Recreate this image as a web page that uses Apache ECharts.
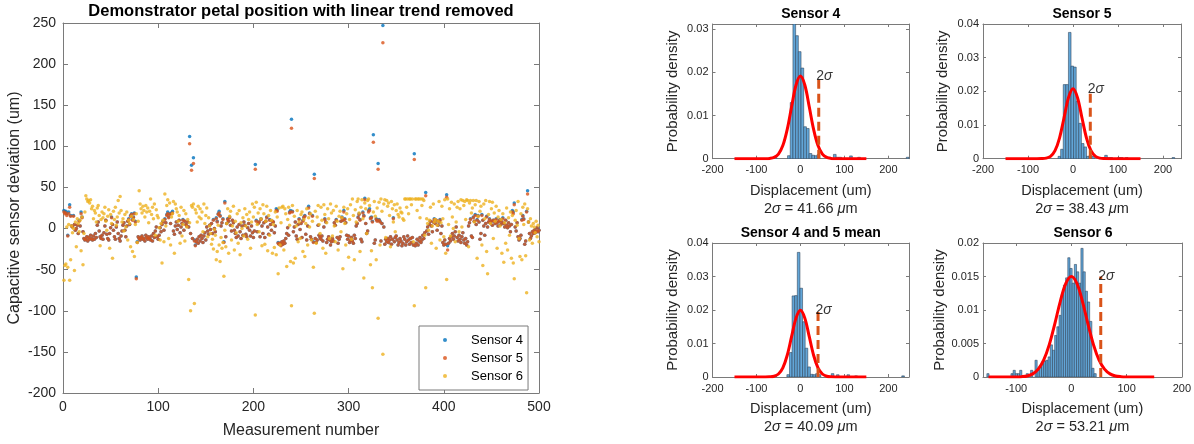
<!DOCTYPE html>
<html><head><meta charset="utf-8">
<script src="https://cdn.jsdelivr.net/npm/echarts@6/dist/echarts.min.js"></script>
<style>html,body{margin:0;padding:0;background:#fff}#c{width:1194px;height:444px}</style>
</head><body><div id="c"></div>
<script>
// ---------------- data ----------------
const sensor4 = [
22,20,21,18,-8,20,29,16,3,2, 16,5,-2,0,4,-6,10,3,20,14, -4,-12,-14,-13,-10,-15,-11,-13,-8,-12, -14,-9,-13,-6,-11,4,8,-3,-10,-12, -8,-13,-5,3,10,-7,-12,-14,-6,1,
14,5,-2,-10,-13,2,8,-6,-12,-15, -9,-3,4,7,-2,-10,3,9,12,5, 16,18,11,14,19,9,-59,-16,-10,-12, -14,-11,-9,-13,-12,-15,-8,-11,-13,-10, -12,-14,-9,-15,-6,-11,-3,2,-10,-13,
-8,1,-4,5,9,-2,12,7,17,20, 14,18,6,19,21,-3,-7,3,8,-1, 4,10,-5,2,6,11,-2,9,5,3, 8,2,112,-6,77,-12,86,-14,-20,-16, -13,-18,-10,-15,-8,-12,-17,-9,-5,-14,
2,-3,-7,4,-1,6,-6,11,0,-4, 13,9,18,21,16,3,7,12,-16,33, -10,6,12,9,14,4,-3,10,7,-2, -6,-11,2,-9,5,-4,-12,3,-8,8, 4,-7,-10,1,6,-2,-9,3,-5,-11,
-3,78,10,-4,6,8,-10,12,3,-6, 7,-11,9,14,2,-7,11,5,-2,9, 8,-5,3,24,23,-17,-19,-18,-20,-16, -19,-15,-18,-12,-6,1,-8,20,22,133, 21,-4,2,8,-9,-13,5,12,-1,6,
-11,10,14,16,-7,-14,3,27,19,-10, -13,16,-16,66,-12,-17,-14,4,-8,-11, -13,-9,-15,2,12,8,-17,-13,-10,-14, -20,-16,-12,-15,7,4,11,-11,-18,-13, -10,9,14,10,22,12,7,-8,-13,-9,
-17,-14,-11,-15,-18,-8,-12,3,6,14, 18,11,-13,-16,20,16,37,6,-6,-3, 22,24,13,14,9,114,-18,-14,12,10, 79,11,9,-15,6,247,2,-19,-13,-16, -12,-17,-14,-10,-19,-13,13,-16,-11,-9,
-14,-20,-17,-12,-15,-21,-18,-10,-13,-20, -16,-9,-14,-19,-12,-17,-11,-20,91,-21, -18,-13,-20,-15,-11,-17,-14,-8,-12,-5, 44,-3,2,-7,5,9,3,-4,8,12, 6,10,-2,4,8,11,-6,3,-17,-20,
-14,-19,41,-21,-18,-12,-15,-10,-6,-13, -9,-4,2,-11,-15,-8,-13,-17,-10,-5, -14,-18,-12,-20,-16,3,7,12,-9,-11, 14,9,17,5,11,16,8,-13,-6,17, 10,3,-8,6,15,2,8,12,7,9,
4,10,9,6,12,7,3,9,11,5, 8,13,6,2,10,4,1,7,3,-4, 5,22,20,31,2,-3,7,-10,-14,-12, -8,11,16,12,-19,-15,21,46,8,-6, -12,-9,-4,-6,-2,-5,-3,1,-4,-2
];
const sensor5 = [
20,18,19,16,-9,18,26,15,3,2, 15,5,-2,0,4,-6,9,3,18,13, -4,-12,-14,-13,-10,-15,-11,-13,-8,-12, -14,-9,-13,-6,-11,4,8,-3,-10,-12, -8,-13,-5,3,10,-7,-12,-14,-6,1,
13,5,-2,-10,-13,2,8,-6,-12,-15, -9,-3,4,7,-2,-10,3,9,11,5, 15,17,10,13,18,8,-61,-17,-10,-12, -14,-11,-9,-13,-12,-15,-8,-11,-13,-10, -12,-14,-9,-15,-6,-11,-3,2,-10,-13,
-8,1,-4,5,8,-2,11,7,16,18, 13,17,6,18,19,-3,-7,3,8,-1, 4,10,-5,2,6,10,-2,9,5,3, 8,2,103,-6,71,-12,79,-15,-21,-16, -13,-18,-10,-15,-8,-12,-17,-9,-5,-14,
2,-3,-7,4,-1,6,-6,10,0,-4, 12,8,17,19,15,3,7,11,-17,31, -10,6,11,9,13,4,-3,10,7,-2, -6,-11,2,-9,5,-4,-12,3,-8,8, 4,-7,-10,1,6,-2,-9,3,-5,-11,
-3,72,9,-4,6,8,-10,11,3,-6, 7,-11,9,13,2,-7,10,5,-2,9, 8,-5,3,22,21,-18,-19,-18,-21,-16, -19,-15,-18,-12,-6,1,-8,19,20,122, 20,-4,2,8,-9,-13,5,11,-1,6,
-11,9,13,15,-7,-14,3,25,18,-10, -13,15,-17,61,-12,-17,-14,4,-8,-11, -13,-9,-15,2,11,8,-17,-13,-10,-14, -20,-16,-12,-15,7,4,10,-11,-18,-13, -10,9,13,10,20,11,7,-8,-13,-9,
-17,-14,-11,-15,-18,-8,-12,3,6,13, 17,10,-13,-16,19,15,35,6,-6,-3, 20,22,12,13,8,105,-18,-14,11,9, 72,10,8,-15,6,226,2,-19,-13,-16, -12,-17,-14,-10,-19,-13,12,-16,-11,-9,
-14,-20,-17,-12,-15,-21,-18,-10,-13,-20, -16,-9,-14,-19,-12,-17,-11,-20,84,-21, -18,-13,-20,-15,-11,-17,-14,-8,-12,-5, 40,-3,2,-7,5,9,3,-4,8,11, 6,10,-2,4,8,10,-6,3,-17,-20,
-14,-19,38,-26,-18,-12,-15,-10,-6,-13, -9,-4,2,-11,-15,-8,-13,-17,-10,-5, -14,-18,-12,-20,-16,3,7,11,-9,-11, 13,9,16,5,10,15,8,-13,-6,16, 10,3,-8,6,14,2,8,11,7,9,
4,10,9,6,11,7,3,9,10,5, 8,12,6,2,10,4,1,7,3,-4, 5,20,18,29,2,-3,7,-10,-14,-12, -8,10,15,11,-19,-15,20,42,8,-6, -12,-9,-4,-6,-2,-5,-3,1,-4,-2
];
const sensor6 = [
-63,-45,-43,2,-47,5,-63,-38,3,-5, 0,-51,8,-22,12,6,-4,10,-27,14, -44,-6,20,40,36,33,34,31,35,24, 27,12,22,19,8,25,28,16,-21,11, 20,13,18,26,9,-2,15,23,-24,17,
6,-36,21,11,26,4,14,34,19,39, 22,8,12,-3,17,2,20,-14,10,6, -22,15,-28,11,-34,5,18,-17,9,46, 30,24,19,27,22,14,28,20,25,7, 21,36,17,26,12,30,-8,23,16,13,
1,-14,6,-42,10,-16,42,3,28,35, -12,31,-20,14,18,33,-30,30,24,20, 9,16,-18,26,-9,5,22,-15,18,2, 11,-62,7,-100,28,26,30,-91,23,19, 8,27,14,24,12,20,-4,30,6,16,
25,-10,13,3,-6,-19,-13,-25,-1,-8, -38,-28,4,-20,-40,-11,-24,-17,-58,-2, -22,6,24,-30,15,21,-14,3,27,-26, 9,-5,18,-18,22,-32,7,0,13,-9, 24,3,17,-13,11,20,-24,8,30,14,
26,-105,32,5,19,-4,24,12,-21,29, 18,-19,9,27,-27,16,-8,22,10,-30, 5,-23,20,-32,14,-55,25,-20,7,26, 27,-26,24,18,-46,11,26,4,-40,-94, 28,-42,15,-36,3,22,-16,8,-12,17,
20,-28,11,-34,6,24,-20,13,2,18, -14,9,-47,-103,21,-18,14,28,5,-6, 26,10,-24,29,17,-30,7,24,12,-12, 30,19,-9,22,3,-16,27,9,-26,15, 21,-4,13,-49,26,6,-20,18,24,-35,
11,29,-13,36,16,-38,23,8,33,36, 19,-28,26,35,12,-60,31,24,-6,34, 36,28,-44,-27,-72,20,33,15,-38,25, -109,32,-20,36,21,-153,30,35,-11,34, 27,31,16,-22,33,24,8,29,-4,22,
30,17,14,25,20,19,12,10,36,36, 26,36,18,36,36,29,36,-16,-94,36, 36,22,36,36,13,36,28,36,34,-8, -72,12,6,-2,10,26,-18,3,30,8, 11,-24,4,9,33,-14,7,27,12,-10,
35,-30,-62,36,5,24,-9,32,14,0, 30,-16,8,26,33,-4,24,35,2,34, 28,33,11,35,34,-22,31,34,19,25, 34,8,29,34,-36,15,33,21,27,-20, -45,30,12,34,-28,-55,17,33,6,24,
32,-12,19,9,27,-24,14,22,3,11, -30,18,-41,7,-18,25,-26,13,-8,20, -36,16,-42,-61,10,22,4,33,-12,-34, 18,-38,26,5,30,-33,-78,24,8,-14, 12,3,-18,6,2,-5,9,-10,4,-16
];
const seriesNames = ['Sensor 4', 'Sensor 5', 'Sensor 6'];

// histogram densities (50 bins each)
const hist4Start = -60, hist4Width = 6.14;
const hist4Density = [0.00033,0,0,0,0,0.0007,0.013,0.0312,0.0285,0.0248, 0.021,0.0074,0.007,0.0012,0.0008,0.0007,0.001,0,0,0, 0.00033,0,0.001,0.00033,0.00033,0,0,0,0.00065,0, 0,0.00033,0,0,0,0,0,0,0,0, 0,0,0,0,0,0,0,0,0,0.00033];
const hist5Start = -62, hist5Width = 5.76;
const hist5Density = [0.00035,0,0,0,0,0.0007,0.0028,0.022,0.022,0.0375, 0.0275,0.0272,0.017,0.0105,0.0045,0.0035,0.0007,0.001,0.0007,0, 0,0.00035,0,0.001,0.00035,0.00035,0,0,0.00035,0.00035, 0,0.00035,0,0,0,0,0,0,0,0, 0,0,0,0,0,0,0,0,0,0.00035];
const histMStart = -60.5, histMWidth = 5.94;
const histMDensity = [0.00034,0,0,0,0,0.0007,0.0073,0.0242,0.0243,0.0372, 0.0265,0.0165,0.0086,0.003,0.0008,0.0007,0.001,0.0007,0,0, 0.00034,0,0.001,0,0.00067,0,0,0,0.00067,0, 0,0.00034,0,0,0,0,0,0,0,0, 0,0,0,0,0,0,0,0,0,0.00034];
const hist6Start = -153, hist6Width = 3.96;
const hist6Density = [0.0005,0,0,0,0,0,0,0,0,0, 0,0.0005,0.001,0.0005,0.0005,0.001,0,0,0.0005,0, 0.001,0,0.0025,0.001,0.0015,0.002,0.0024,0.0025,0.003,0.0048, 0.004,0.0062,0.0075,0.0092,0.0123,0.0137,0.0148,0.0178,0.0162,0.014, 0.0168,0.0157,0.014,0.0192,0.0157,0.0128,0.0112,0.0083,0.0013,0.0005];

// fitted normal curves (read at x = -150..150 step 10)
const curveX = [-150,-140,-130,-120,-110,-100,-90,-80,-70,-60,-50,-40,-30,-20,-10,0,10,20,30,40,50,60,70,80,90,100,110,120,130,140,150];
const curve4 = [0,0,0,0,0,0,0,0.00001,0.00007,0.0003,0.00107,0.00303,0.00679,0.01208,0.01707,0.01915,0.01707,0.01208,0.00679,0.00303,0.00107,0.0003,0.00007,0.00001,0,0,0,0,0,0,0];
const curve5 = [0,0,0,0,0,0,0,0,0.00003,0.00016,0.0007,0.00238,0.00614,0.01208,0.01813,0.02076,0.01813,0.01208,0.00614,0.00238,0.0007,0.00016,0.00003,0,0,0,0,0,0,0,0];
const curveM = [0,0,0,0,0,0,0,0,0.00004,0.00023,0.00089,0.00272,0.00649,0.0121,0.01757,0.0199,0.01757,0.0121,0.00649,0.00272,0.00089,0.00023,0.00004,0,0,0,0,0,0,0,0];
const curve6 = [0,0,0,0,0,0.00001,0.00005,0.00016,0.00047,0.00118,0.00256,0.00484,0.00794,0.0113,0.01397,0.01499,0.01397,0.0113,0.00794,0.00484,0.00256,0.00118,0.00047,0.00016,0.00005,0.00001,0,0,0,0,0];

const twoSigma = [41.66, 38.43, 40.09, 53.21];
const histTitles = ['Sensor 4', 'Sensor 5', 'Sensor 4 and 5 mean', 'Sensor 6'];

// ---------------- chart ----------------
const FONT = "'Liberation Sans', Arial, Helvetica, sans-serif";
const AX = '#7a7a7a';
const TXT = '#262626';
const grids = [
  {left: 63, top: 23, width: 476, height: 374},
  {left: 712.5, top: 24, width: 196.5, height: 134.7},
  {left: 983, top: 24, width: 198, height: 134.7},
  {left: 712.5, top: 243, width: 196.5, height: 134},
  {left: 983, top: 243, width: 200, height: 134}
];
const xCfg = [
  {min: 0, max: 500, interval: 100},
  {min: -200, max: 247, interval: 100},
  {min: -200, max: 240, interval: 100},
  {min: -200, max: 247, interval: 100},
  {min: -160, max: 200}
];
const yCfg = [
  {min: -200, max: 250, interval: 50},
  {min: 0, max: 0.0312, interval: 0.01},
  {min: 0, max: 0.04, interval: 0.01},
  {min: 0, max: 0.04, interval: 0.01},
  {min: 0, max: 0.02, interval: 0.005}
];

const xAxes = [], yAxes = [];
grids.forEach((g, i) => {
  const big = i === 0;
  const tl = big ? 5 : 3;
  const fs = big ? 14 : 11;
  const base = (cfg) => Object.assign({
    type: 'value', gridIndex: i,
    axisLine: {show: true, onZero: false, lineStyle: {color: AX, width: 1}},
    axisTick: {show: true, inside: true, length: tl, lineStyle: {color: AX}},
    splitLine: {show: false}
  }, cfg);
  const xName = big ? 'Measurement number'
    : '{n|Displacement (um)}\n{n|2}{i|σ}{n| = ' + twoSigma[i - 1].toFixed(2) + ' }{i|μ}{n|m}';
  xAxes.push(base(Object.assign({}, xCfg[i], {
    position: 'bottom',
    axisLabel: {show: true, color: TXT, fontSize: fs, fontFamily: FONT, margin: big ? 7 : 6,
      showMaxLabel: big ? true : (i === 4), showMinLabel: i !== 4},
    name: xName, nameLocation: 'middle', nameGap: big ? 30 : 23,
    nameTextStyle: big ? {fontSize: 16, color: TXT, fontFamily: FONT} : {
      color: TXT, fontFamily: FONT,
      rich: {
        n: {fontSize: 14.5, lineHeight: 18, color: TXT, fontFamily: FONT},
        i: {fontSize: 14.5, lineHeight: 18, color: TXT, fontFamily: FONT, fontStyle: 'italic'}
      }
    }
  })));
  xAxes.push(base(Object.assign({}, xCfg[i], {position: 'top', axisLabel: {show: false}})));
  yAxes.push(base(Object.assign({}, yCfg[i], {
    position: 'left',
    axisLabel: {show: true, color: TXT, fontSize: fs, fontFamily: FONT, margin: big ? 7 : 4,
      showMaxLabel: i !== 1},
    name: big ? 'Capacitive sensor deviation (um)' : 'Probability density',
    nameLocation: 'middle', nameGap: big ? 40 : 32.5,
    nameTextStyle: {fontSize: big ? 16 : 15, color: TXT, fontFamily: FONT}
  })));
  yAxes.push(base(Object.assign({}, yCfg[i], {position: 'right', axisLabel: {show: false}})));
});

const series = [];
const scatterColors = ['#0072BD', '#D95319', '#EDB120'];
[sensor4, sensor5, sensor6].forEach((arr, k) => {
  series.push({
    type: 'scatter', name: seriesNames[k], xAxisIndex: 0, yAxisIndex: 0,
    symbol: 'circle', symbolSize: 3.5,
    itemStyle: {color: scatterColors[k]},
    data: arr.map((v, j) => [j + 1, v]), z: 2 + k
  });
});

const hists = [
  [hist4Start, hist4Width, hist4Density, curve4],
  [hist5Start, hist5Width, hist5Density, curve5],
  [histMStart, histMWidth, histMDensity, curveM],
  [hist6Start, hist6Width, hist6Density, curve6]
];
hists.forEach((h, p) => {
  const ax = 2 * (p + 1);
  const [start, width, dens, curve] = h;
  series.push({
    type: 'custom', xAxisIndex: ax, yAxisIndex: ax, clip: true, z: 2,
    encode: {x: [0, 1], y: 2},
    data: dens.map((d, k) => [start + k * width, start + (k + 1) * width, d]),
    renderItem: (params, api) => {
      const hgt = api.value(2);
      if (!hgt) return null;
      const a = api.coord([api.value(0), hgt]);
      const b = api.coord([api.value(1), 0]);
      return {type: 'rect', shape: {x: a[0], y: a[1], width: b[0] - a[0], height: b[1] - a[1]},
        style: {fill: '#62A6D8', stroke: '#2a3f55', lineWidth: 0.55}};
    }
  });
  series.push({
    type: 'line', xAxisIndex: ax, yAxisIndex: ax, z: 3, showSymbol: false, smooth: 0.35,
    lineStyle: {color: '#FF0000', width: 3}, clip: true,
    data: curveX.map((x, k) => [x, curve[k]])
  });
  const peak = Math.max(...curve);
  series.push({
    type: 'line', xAxisIndex: ax, yAxisIndex: ax, z: 4, showSymbol: false,
    lineStyle: {color: '#D95319', width: 3, type: [9, 5]},
    data: [[twoSigma[p], 0], [twoSigma[p], peak]]
  });
  series.push({
    type: 'scatter', xAxisIndex: ax, yAxisIndex: ax, z: 5, symbolSize: 1,
    itemStyle: {color: 'rgba(0,0,0,0)'},
    label: {show: true, position: 'right', distance: -3, formatter: '{a|2}{b|σ}',
      rich: {a: {fontSize: 14, fontFamily: FONT, color: '#000'},
             b: {fontSize: 14, fontFamily: FONT, color: '#000', fontStyle: 'italic'}}},
    data: [[twoSigma[p], peak]]
  });
});

const titleEls = [
  {x: 301, y: 11, text: 'Demonstrator petal position with linear trend removed', size: 16.5},
  {x: 810.7, y: 14.5, text: histTitles[0], size: 14},
  {x: 1082, y: 14.5, text: histTitles[1], size: 14},
  {x: 810.7, y: 233.5, text: histTitles[2], size: 14},
  {x: 1083, y: 233.5, text: histTitles[3], size: 14}
].map(t => ({type: 'text', x: t.x, y: t.y, z: 10,
  style: {text: t.text, fill: '#000', font: 'bold ' + t.size + 'px ' + FONT, textAlign: 'center', textVerticalAlign: 'middle'}}));

const chart = echarts.init(document.getElementById('c'), null, {renderer: 'canvas'});
chart.setOption({
  animation: false,
  backgroundColor: '#fff',
  grid: grids.map(g => Object.assign({containLabel: false}, g)),
  xAxis: xAxes,
  yAxis: yAxes,
  legend: {
    data: seriesNames, orient: 'vertical', left: 419, top: 326,
    itemWidth: 42, itemHeight: 4, itemGap: 2,
    padding: [6, 5, 6, 24], borderColor: '#7a7a7a', borderWidth: 1, backgroundColor: '#fff',
    textStyle: {fontSize: 13, color: '#000', fontFamily: FONT, lineHeight: 16}
  },
  graphic: titleEls,
  series: series
});
</script>
</body></html>
